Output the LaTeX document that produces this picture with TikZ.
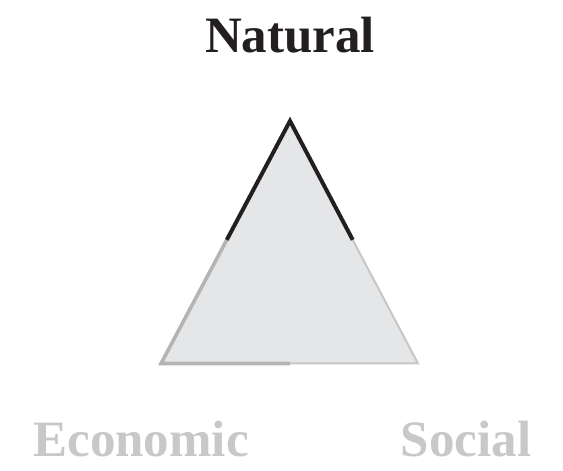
\documentclass[tikz,border=0pt]{standalone}
\usepackage{fontspec}
\setmainfont{Liberation Serif}
\usetikzlibrary{calc}
\definecolor{inkblack}{HTML}{231F20}
\definecolor{labelgrey}{HTML}{C8C8C8}
\definecolor{trifill}{HTML}{E5E6E8}
\definecolor{edgedark}{HTML}{B4B4B4}
\definecolor{edgelight}{HTML}{C6C6C6}
\tikzset{
  lbl/.style={anchor=base, inner sep=0pt, font=\fontsize{51}{56}\selectfont\bfseries},
  blackedge/.style={draw=inkblack, line width=4pt, line join=miter, line cap=butt},
  thickgrey/.style={draw=edgedark, line width=3.6pt, line cap=butt},
  thingrey/.style={draw=edgelight, line width=2pt, line cap=butt},
}
\begin{document}
\begin{tikzpicture}[x=1pt,y=1pt]
\useasboundingbox (0,0) rectangle (563,471);
\coordinate (apex) at (290,350);
\coordinate (bl) at (161,107.5);
\coordinate (br) at (418,107.5);
\coordinate (lm) at ($(apex)!0.49!(bl)$);
\coordinate (rm) at ($(apex)!0.49!(br)$);
\coordinate (bm) at (290,107.5);
\fill[trifill] (apex) -- (bl) -- (br) -- cycle;
\draw[thingrey] (rm) -- (br) -- (bm);
\draw[thickgrey, line join=miter] (lm) -- (bl) -- (bm);
\draw[blackedge] (lm) -- (apex) -- (rm);
\node[lbl, text=inkblack] (natural) at (290,418) {Natural};
\node[lbl, text=labelgrey] (economic) at (141,14) {Economic};
\node[lbl, text=labelgrey] (social) at (466,14) {Social};
\end{tikzpicture}
\end{document}
